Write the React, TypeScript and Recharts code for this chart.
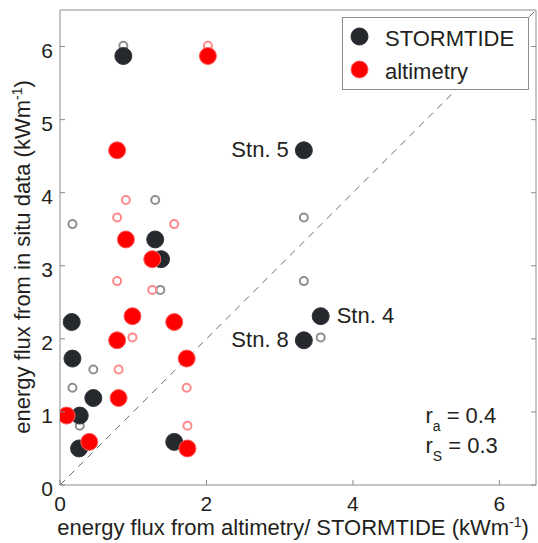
import React from 'react'
import { ScatterChart, Scatter, XAxis, YAxis, ReferenceLine, Legend } from 'recharts'

// in situ flux per station (kWm-1), shared by the filled markers
const insituFlux = [5.87, 4.58, 3.36, 3.09, 2.31, 2.23, 1.98, 1.73, 1.19, 0.95, 0.59, 0.5]
const stormtideFlux = [0.865, 3.33, 1.3, 1.38, 3.56, 0.16, 3.33, 0.17, 0.455, 0.27, 1.56, 0.26]
const altimetryFlux = [2.02, 0.78, 0.9, 1.26, 0.99, 1.56, 0.78, 1.73, 0.8, 0.09, 0.4, 1.74]

// open markers (alternative in situ estimate)
const openStormX = [0.865, 0.17, 1.3, 3.33, 1.37, 3.33, 3.56, 0.455, 0.17, 0.27]
const openStormY = [6.01, 3.57, 3.9, 3.66, 2.67, 2.79, 2.02, 1.58, 1.33, 0.81]
const openAltX = [2.02, 0.9, 0.78, 1.56, 0.78, 1.26, 0.99, 0.8, 1.73, 1.74]
const openAltY = [6.01, 3.9, 3.66, 3.57, 2.79, 2.67, 2.02, 1.58, 1.33, 0.81]

const stationLabels = ['Stn. 5', 'Stn. 4', 'Stn. 8']
const stationIndex = [1, 4, 6]
const stationSide = ['left', 'right', 'left']

const corrNames = ['a', 'S']
const corrValues = [0.4, 0.3]
const corrX = [4.99, 4.99]
const corrY = [0.85, 0.44]

const xTicks = [0, 2, 4, 6]
const yTicks = [0, 1, 2, 3, 4, 5, 6]
const legendNames = ['STORMTIDE', 'altimetry']

const FONT = '"Liberation Sans", Arial, Helvetica, sans-serif'
const TEXT = '#231f20'
const AXIS = '#8c8c8c'
const BLACK = '#25282d'
const RED = '#ff0000'

const toPoints = (xs: number[], ys: number[]) => xs.map((x, i) => ({ x, y: ys[i] }))

const stormData = toPoints(stormtideFlux, insituFlux)
const altData = toPoints(altimetryFlux, insituFlux)
const openStormData = toPoints(openStormX, openStormY)
const openAltData = toPoints(openAltX, openAltY)
const stationData = stationIndex.map((idx, i) => ({
  x: stormtideFlux[idx], y: insituFlux[idx], label: stationLabels[i], side: stationSide[i],
}))
const corrData = corrNames.map((n, i) => ({ x: corrX[i], y: corrY[i], name: n, value: corrValues[i] }))

const dot = (fill: string, stroke: string, r: number, sw: number) => (p: any) => (
  <circle cx={p.cx} cy={p.cy} r={r} fill={fill} stroke={stroke} strokeWidth={sw} />
)

const StationLabel = (p: any) => {
  const left = p.payload.side === 'left'
  return (
    <text x={left ? p.cx - 15 : p.cx + 16} y={p.cy + 7} textAnchor={left ? 'end' : 'start'}
      fontFamily={FONT} fontSize={22} fill={TEXT}>
      {p.payload.label}
    </text>
  )
}

const CorrLabel = (p: any) => (
  <text x={p.cx} y={p.cy} fontFamily={FONT} fontSize={22} fill={TEXT}>
    r<tspan dy={8} fontSize={14}>{p.payload.name}</tspan>
    <tspan dy={-8}>{` = ${p.payload.value.toFixed(1)}`}</tspan>
  </text>
)

const BottomTick = (p: any) => (
  <g>
    <line x1={p.x} x2={p.x} y1={p.y} y2={p.y - 5} stroke={AXIS} />
    <text x={p.x} y={p.y + 26} textAnchor="middle" fontFamily={FONT} fontSize={21} fill={TEXT}>
      {p.payload.value}
    </text>
  </g>
)

const LeftTick = (p: any) => (
  <g>
    <line x1={p.x} x2={p.x + 5} y1={p.y} y2={p.y} stroke={AXIS} />
    <text x={p.x - 7} y={p.y + 11} textAnchor="end" fontFamily={FONT} fontSize={21} fill={TEXT}>
      {p.payload.value}
    </text>
  </g>
)

const TopTick = (p: any) => <line x1={p.x} x2={p.x} y1={p.y} y2={p.y + 5} stroke={AXIS} />
const RightTick = (p: any) => <line x1={p.x} x2={p.x - 5} y1={p.y} y2={p.y} stroke={AXIS} />

const XTitle = (p: any) => {
  const vb = p.viewBox
  return (
    <text x={vb.x + vb.width / 2 - 5} y={vb.y + 50} textAnchor="middle" fontFamily={FONT} fontSize={22} fill={TEXT}>
      energy flux from altimetry/ STORMTIDE (kWm<tspan dy={-8} fontSize={14}>-1</tspan>
      <tspan dy={8}>)</tspan>
    </text>
  )
}

const YTitle = () => (
  <text x={30} y={257} transform="rotate(-90 30 257)" textAnchor="middle" fontFamily={FONT} fontSize={22} fill={TEXT}>
    energy flux from in situ data (kWm<tspan dy={-8} fontSize={14}>-1</tspan>
    <tspan dy={8}>)</tspan>
  </text>
)

const LegendBox = () => (
  <svg width={187} height={73}>
    <rect x={0.5} y={0.5} width={186} height={72} fill="#fff" stroke={AXIS} />
    {legendNames.map((name, i) => (
      <g key={name}>
        <circle cx={17.5} cy={19.5 + i * 33} r={8.5} fill={i === 0 ? BLACK : RED}
          stroke={i === 0 ? BLACK : '#ff5a5a'} strokeWidth={1} />
        <text x={43} y={29 + i * 33} fontFamily={FONT} fontSize={22} fill={TEXT}>{name}</text>
      </g>
    ))}
  </svg>
)

export default function App() {
  return (
    <div style={{ position: 'absolute', left: 0, top: 0 }}>
      <ScatterChart width={538} height={543} margin={{ top: 9, right: 1, bottom: 0, left: 0 }}>
        <XAxis xAxisId="b" type="number" dataKey="x" domain={[0, 6.5]} ticks={xTicks} interval={0}
          height={58} tickSize={0} tickMargin={0} tickLine={false} axisLine={{ stroke: AXIS }}
          tick={BottomTick} allowDataOverflow label={{ content: XTitle }} />
        <XAxis xAxisId="t" orientation="top" type="number" domain={[0, 6.5]} ticks={xTicks} interval={0}
          height={1} tickSize={0} tickMargin={0} tickLine={false} axisLine={{ stroke: AXIS }}
          tick={TopTick} allowDataOverflow />
        <YAxis yAxisId="l" type="number" dataKey="y" domain={[0, 6.5]} ticks={yTicks} interval={0}
          width={60} tickSize={0} tickMargin={0} tickLine={false} axisLine={{ stroke: AXIS }}
          tick={LeftTick} allowDataOverflow label={{ content: YTitle }} />
        <YAxis yAxisId="r" orientation="right" type="number" domain={[0, 6.5]} ticks={yTicks} interval={0}
          width={1} tickSize={0} tickMargin={0} tickLine={false} axisLine={{ stroke: AXIS }}
          tick={RightTick} allowDataOverflow />
        <ReferenceLine xAxisId="b" yAxisId="l" segment={[{ x: 0, y: 0 }, { x: 6.5, y: 6.5 }]}
          stroke="#5a5a5a" strokeWidth={0.9} strokeDasharray="7 6" />
        <Scatter xAxisId="b" yAxisId="l" data={openStormData} shape={dot('none', '#8f8f8f', 4, 2)}
          isAnimationActive={false} legendType="none" />
        <Scatter xAxisId="b" yAxisId="l" data={openAltData} shape={dot('none', '#ff8a8a', 4, 2)}
          isAnimationActive={false} legendType="none" />
        <Scatter xAxisId="b" yAxisId="l" name="STORMTIDE" data={stormData} shape={dot(BLACK, '#33363b', 8.5, 1)}
          isAnimationActive={false} />
        <Scatter xAxisId="b" yAxisId="l" name="altimetry" data={altData} shape={dot(RED, '#ff5a5a', 8.5, 1)}
          isAnimationActive={false} />
        <Scatter xAxisId="b" yAxisId="l" data={stationData} shape={StationLabel}
          isAnimationActive={false} legendType="none" />
        <Scatter xAxisId="b" yAxisId="l" data={corrData} shape={CorrLabel}
          isAnimationActive={false} legendType="none" />
        <Legend layout="vertical" align="center" verticalAlign="middle" content={LegendBox}
          wrapperStyle={{ left: 342, top: 17, width: 187, height: 73 }} />
      </ScatterChart>
    </div>
  )
}
